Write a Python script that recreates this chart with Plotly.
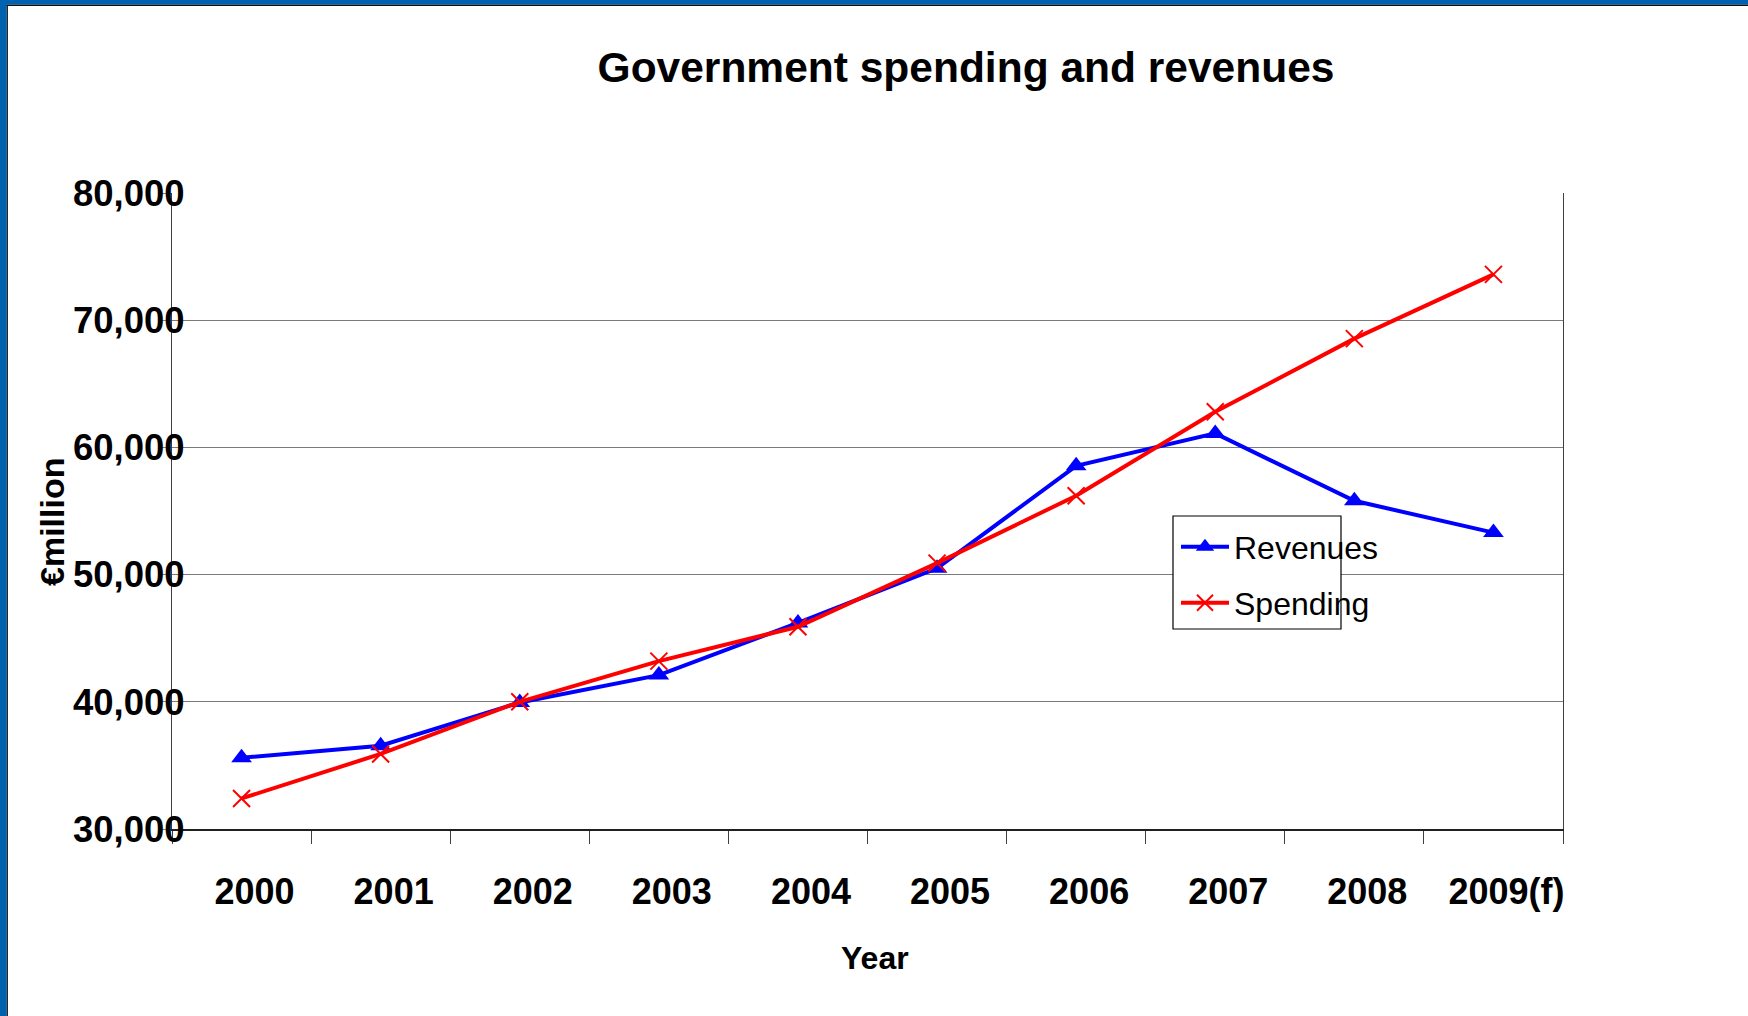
import plotly.graph_objects as go

# ---- data ----
years = ["2000", "2001", "2002", "2003", "2004", "2005", "2006", "2007", "2008", "2009(f)"]
revenues = [35600, 36550, 39950, 42100, 46200, 50500, 58550, 61100, 55800, 53300]
spending = [32400, 35900, 40000, 43200, 45900, 50900, 56200, 62800, 68550, 73600]
y_ticks = [30000, 40000, 50000, 60000, 70000, 80000]

# ---- layout geometry (pixels) ----
W, H = 1748, 1016
L, R, T, B = 172, 185, 193, 187
PW, PH = W - L - R, H - T - B
FONT = "Liberation Sans, Arial, Helvetica, sans-serif"
BLUE_FRAME = "#0062AE"


def px(x):
    return (x - L) / PW


def py(y):
    return (H - B - y) / PH


fig = go.Figure()
fig.add_trace(go.Scatter(
    x=years, y=revenues, name="Revenues", mode="lines+markers", legend="legend",
    line=dict(color="#0000FF", width=4),
    marker=dict(symbol="triangle-up", size=18, color="#0000FF"),
))
fig.add_trace(go.Scatter(
    x=years, y=spending, name="Spending", mode="lines+markers", legend="legend2",
    line=dict(color="#FF0000", width=4),
    marker=dict(symbol="x-thin", size=17, color="#FF0000",
                line=dict(color="#FF0000", width=2)),
))

legend_common = dict(
    xanchor="left", yanchor="middle", bgcolor="rgba(0,0,0,0)", borderwidth=0,
    font=dict(size=32, color="black", family=FONT), itemwidth=48,
)

fig.update_layout(
    width=W, height=H,
    margin=dict(l=L, r=R, t=T, b=B, autoexpand=False),
    paper_bgcolor="white", plot_bgcolor="white",
    font=dict(family=FONT, color="black"),
    title=dict(
        text="Government spending and revenues",
        font=dict(size=42.5, family=FONT, color="black", weight="bold"),
        x=966 / W, xanchor="center", xref="container",
        y=1 - 67 / H, yanchor="middle", yref="container",
    ),
    xaxis=dict(
        type="category", categoryorder="array", categoryarray=years,
        range=[-0.5, len(years) - 0.5],
        tickson="boundaries", ticks="outside", ticklen=13, tickcolor="#404040",
        showline=True, linecolor="#202020", linewidth=1.5,
        showgrid=False, zeroline=False,
        tickfont=dict(size=36, family=FONT, color="black", weight="bold"),
        ticklabelshift=13, ticklabelstandoff=30,
    ),
    yaxis=dict(
        range=[y_ticks[0], y_ticks[-1]], tickmode="array", tickvals=y_ticks,
        tickformat=",",
        showgrid=True, gridcolor="#7a7a7a", gridwidth=1.2,
        showline=True, linecolor="#404040", linewidth=1.2, mirror=True,
        ticks="outside", ticklen=9, tickcolor="#808080",
        zeroline=False,
        tickfont=dict(size=36.5, family=FONT, color="black", weight="bold"),
        ticklabelstandoff=-30,
    ),
    legend=dict(x=px(1176), y=py(547), **legend_common),
    legend2=dict(x=px(1176), y=py(603), **legend_common),
    showlegend=True,
)

# axis titles as annotations
fig.add_annotation(text="€million", textangle=-90, showarrow=False,
                   xref="paper", yref="paper", x=px(52), y=py(522),
                   xanchor="center", yanchor="middle",
                   font=dict(size=34, family=FONT, color="black", weight="bold"))
fig.add_annotation(text="Year", showarrow=False,
                   xref="paper", yref="paper", x=px(875), y=py(958),
                   xanchor="center", yanchor="middle",
                   font=dict(size=32, family=FONT, color="black", weight="bold"))

# legend box (drawn as a frame; legend text overflows it as in the reference)
fig.add_shape(type="rect", xref="paper", yref="paper",
              x0=px(1173), x1=px(1341), y0=py(629), y1=py(516),
              line=dict(color="#000000", width=1.2), fillcolor="white", layer="above")

# slide frame: blue band top and left with dark inner edge
fig.add_shape(type="rect", xref="paper", yref="paper",
              x0=px(0), x1=px(W), y0=py(0), y1=py(4.7),
              line=dict(width=0), fillcolor=BLUE_FRAME, layer="above")
fig.add_shape(type="rect", xref="paper", yref="paper",
              x0=px(0), x1=px(W), y0=py(4.7), y1=py(6),
              line=dict(width=0), fillcolor="#101010", layer="above")
fig.add_shape(type="rect", xref="paper", yref="paper",
              x0=px(0), x1=px(6.8), y0=py(0), y1=py(H),
              line=dict(width=0), fillcolor=BLUE_FRAME, layer="above")
fig.add_shape(type="rect", xref="paper", yref="paper",
              x0=px(6.8), x1=px(7.9), y0=py(5), y1=py(H),
              line=dict(width=0), fillcolor="#101010", layer="above")

fig.write_html(
    "out.html",
    config={"displayModeBar": False},
    post_script="document.body.style.margin='0';document.body.style.padding='0';",
)
